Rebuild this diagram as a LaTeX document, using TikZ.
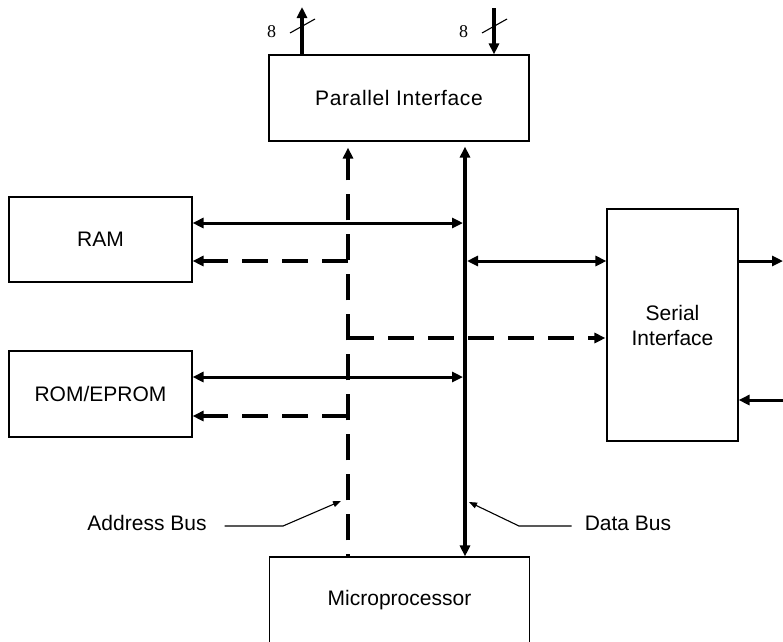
\documentclass[tikz,border=0pt]{standalone}
\usepackage{fontspec}
\setmainfont{Liberation Sans}
\newfontfamily\numfont{Liberation Serif}
\usetikzlibrary{arrows.meta,calc}
\begin{document}
\begin{tikzpicture}[x=1pt,y=-1pt,
  blk/.style={draw, line width=1.1pt, inner sep=0pt, align=center, font=\fontsize{21}{25}\selectfont},
  tip/.tip={Triangle[length=11pt,width=10pt]},
  ltip/.tip={Triangle[length=8pt,width=6pt]},
  sbus/.style={line width=3pt},
  dbus/.style={line width=4pt},
  abus/.style={line width=4pt, dash pattern=on 26pt off 14pt},
  lead/.style={line width=1.1pt},
  lbl/.style={font=\fontsize{21}{25}\selectfont, inner sep=0pt},
  num/.style={font=\numfont\fontsize{18}{20}\selectfont, inner sep=0pt}]
\useasboundingbox (0,0) rectangle (783,641);
\clip (0,0) rectangle (783,641);

% blocks
\node[blk, minimum width=260pt, minimum height=86pt,
      font=\fontsize{21}{25}\selectfont\addfontfeatures{LetterSpace=3}] (par) at (399,98) {Parallel Interface};
\node[blk, minimum width=183pt, minimum height=85pt] (ram) at (100.5,239.5) {RAM};
\node[blk, minimum width=183pt, minimum height=86pt] (rom) at (100.5,394) {ROM/EPROM};
\node[blk, minimum width=131pt, minimum height=232pt] (ser) at (672.5,325) {Serial\\Interface};
\node[blk, minimum width=260pt, minimum height=86pt] (mic) at (399.5,600) {Microprocessor};

% reference coordinates
\coordinate (ax) at (348,0);
\coordinate (dx) at (465,0);
\coordinate (ramD) at (0,223);
\coordinate (ramA) at (0,261);
\coordinate (serD) at (0,261);
\coordinate (serA) at (0,338);
\coordinate (romD) at (0,377);
\coordinate (romA) at (0,416);
\coordinate (sout) at (783,261);
\coordinate (sin) at (783,400);
\coordinate (pout) at (302,7);
\coordinate (pin) at (494,8);

% address bus (dashed)
\draw[abus, dash phase=24pt, -{tip}] (ax |- mic.north) -- ([yshift=-6pt]ax |- par.south);
\draw[abus, -{tip}] (ax |- ramA) -- (ram.east |- ramA);
\draw[abus, -{tip}] (ax |- serA) -- ([xshift=-1pt]ser.west |- serA);
\draw[abus, -{tip}] (ax |- romA) -- (rom.east |- romA);

% data bus (solid)
\draw[dbus, {tip}-{tip}] ([yshift=-5pt]dx |- par.south) -- (dx |- mic.north);
\draw[sbus, {tip}-{tip}] (ram.east |- ramD) -- ([xshift=-2pt]dx |- ramD);
\draw[sbus, {tip}-{tip}] (rom.east |- romD) -- ([xshift=-2pt]dx |- romD);
\draw[sbus, {tip}-{tip}] ([xshift=2pt]dx |- serD) -- (ser.west |- serD);

% serial lines
\draw[sbus, -{tip}] (ser.east |- sout) -- (sout);
\draw[sbus, -{tip}] (sin) -- (ser.east |- sin);

% parallel port lines
\draw[dbus, -{tip}] (par.north -| pout) -- (pout);
\draw[dbus, -{tip}] (pin) -- (par.north -| pin);
\coordinate (s1a) at (290,33); \coordinate (s1b) at (315,19);
\coordinate (s2a) at (482,33); \coordinate (s2b) at (507,19);
\draw[lead] (s1a) -- (s1b);
\draw[lead] (s2a) -- (s2b);
\node[num] (n1) at (271.5,32) {8};
\node[num] (n2) at (463.5,32) {8};

% labels
\node[lbl] (abl) at (147,523) {Address Bus};
\node[lbl] (dbl) at (628,523) {Data Bus};
\coordinate (ak) at (283,526); \coordinate (at) at (341,501);
\coordinate (dk) at (519,526); \coordinate (dt) at (469,502);
\draw[lead, -{ltip}] ($(abl.east)+(18,3)$) -- (ak) -- (at);
\draw[lead, -{ltip}] ($(dbl.west)+(-13,3)$) -- (dk) -- (dt);
\end{tikzpicture}
\end{document}
